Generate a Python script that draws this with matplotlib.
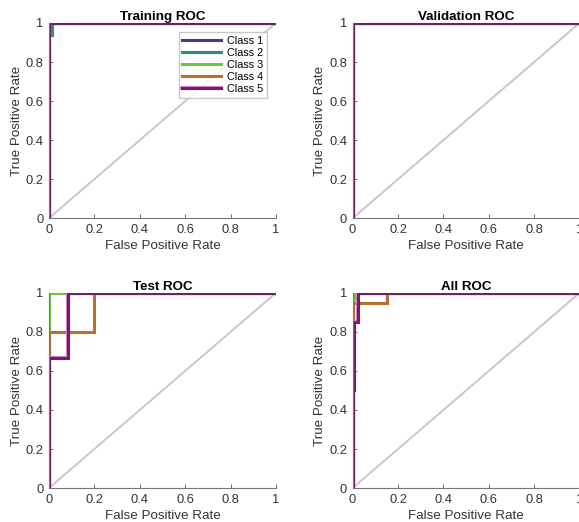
import numpy as np
import matplotlib.pyplot as plt
import matplotlib.patheffects as pe

plt.rcParams['font.family'] = ['Liberation Sans', 'DejaVu Sans']

# ROC curves: (fpr, tpr) per class
class_names = ["Class 1", "Class 2", "Class 3", "Class 4", "Class 5"]
class_colors = ["#3a3f94", "#2a8c8c", "#6cc63c", "#b8702e", "#6e1f68"]

train_fpr = [[0, 0, 1], [0, 0, 0.015, 0.015, 1], [0, 0, 1], [0, 0, 1], [0, 0, 1]]
train_tpr = [[0, 1, 1], [0, 0.94, 0.94, 1, 1], [0, 1, 1], [0, 1, 1], [0, 1, 1]]

val_fpr = [[0, 0, 1]] * 5
val_tpr = [[0, 1, 1]] * 5

test_fpr = [[0, 0, 1], [0, 0, 1], [0, 0, 1], [0, 0, 0.2, 0.2, 1], [0, 0, 0.083, 0.083, 1]]
test_tpr = [[0, 1, 1], [0, 1, 1], [0, 1, 1], [0, 0.8, 0.8, 1, 1], [0, 0.667, 0.667, 1, 1]]

all_fpr = [[0, 0, 1], [0, 0, 1], [0, 0, 0.01, 0.01, 1], [0, 0, 0.15, 0.15, 1],
           [0, 0, 0.007, 0.007, 0.022, 0.022, 1]]
all_tpr = [[0, 1, 1], [0, 1, 1], [0, 0.97, 0.97, 1, 1], [0, 0.95, 0.95, 1, 1],
           [0, 0.5, 0.5, 0.85, 0.85, 1, 1]]

panels = [
    ("Training ROC", train_fpr, train_tpr, [0.0846, 0.582, 0.392, 0.374]),
    ("Validation ROC", val_fpr, val_tpr, [0.609, 0.582, 0.392, 0.374]),
    ("Test ROC", test_fpr, test_tpr, [0.0846, 0.065, 0.392, 0.374]),
    ("All ROC", all_fpr, all_tpr, [0.609, 0.065, 0.392, 0.374]),
]

fig = plt.figure(figsize=(5.79, 5.22), dpi=100)

for i, (title, fprs, tprs, pos) in enumerate(panels):
    ax = fig.add_axes(pos)
    ax.plot([0, 1], [0, 1], color="#c8c8c8", lw=1.4, zorder=1)
    for name, col, fx, ty in zip(class_names, class_colors, fprs, tprs):
        effects = None
        if name == "Class 5":
            effects = [pe.Stroke(linewidth=3.0, foreground="#d985cc"), pe.Normal()]
        ax.plot(fx, ty, color=col, lw=2.2, label=name, zorder=2,
                solid_joinstyle="miter", path_effects=effects)
    ax.set_xlim(0, 1)
    ax.set_ylim(0, 1)
    ax.set_xticks(np.arange(0, 1.01, 0.2))
    ax.set_yticks(np.arange(0, 1.01, 0.2))
    ax.set_xticklabels(["0", "0.2", "0.4", "0.6", "0.8", "1"])
    ax.set_yticklabels(["0", "0.2", "0.4", "0.6", "0.8", "1"])
    ax.tick_params(direction="in", length=3, width=0.6, colors="#555555",
                   labelsize=9.3, labelcolor="#333333", pad=4)
    for s in ["top", "right"]:
        ax.spines[s].set_visible(False)
    for s in ["left", "bottom"]:
        ax.spines[s].set_color("#777777")
        ax.spines[s].set_linewidth(0.8)
    ax.set_title(title, fontsize=9.6, fontweight="bold", pad=2)
    ax.set_xlabel("False Positive Rate", fontsize=9.6, color="#333333", labelpad=3)
    ax.set_ylabel("True Positive Rate", fontsize=9.6, color="#333333", labelpad=2)
    if i == 0:
        ax.legend(loc="upper right", bbox_to_anchor=(0.96, 0.955), borderaxespad=0,
                  fontsize=7.8, frameon=True, fancybox=False, edgecolor="#bbbbbb",
                  handlelength=3.6, borderpad=0.35, labelspacing=0.2,
                  handletextpad=0.5)

fig.savefig("out.png", dpi=100)
